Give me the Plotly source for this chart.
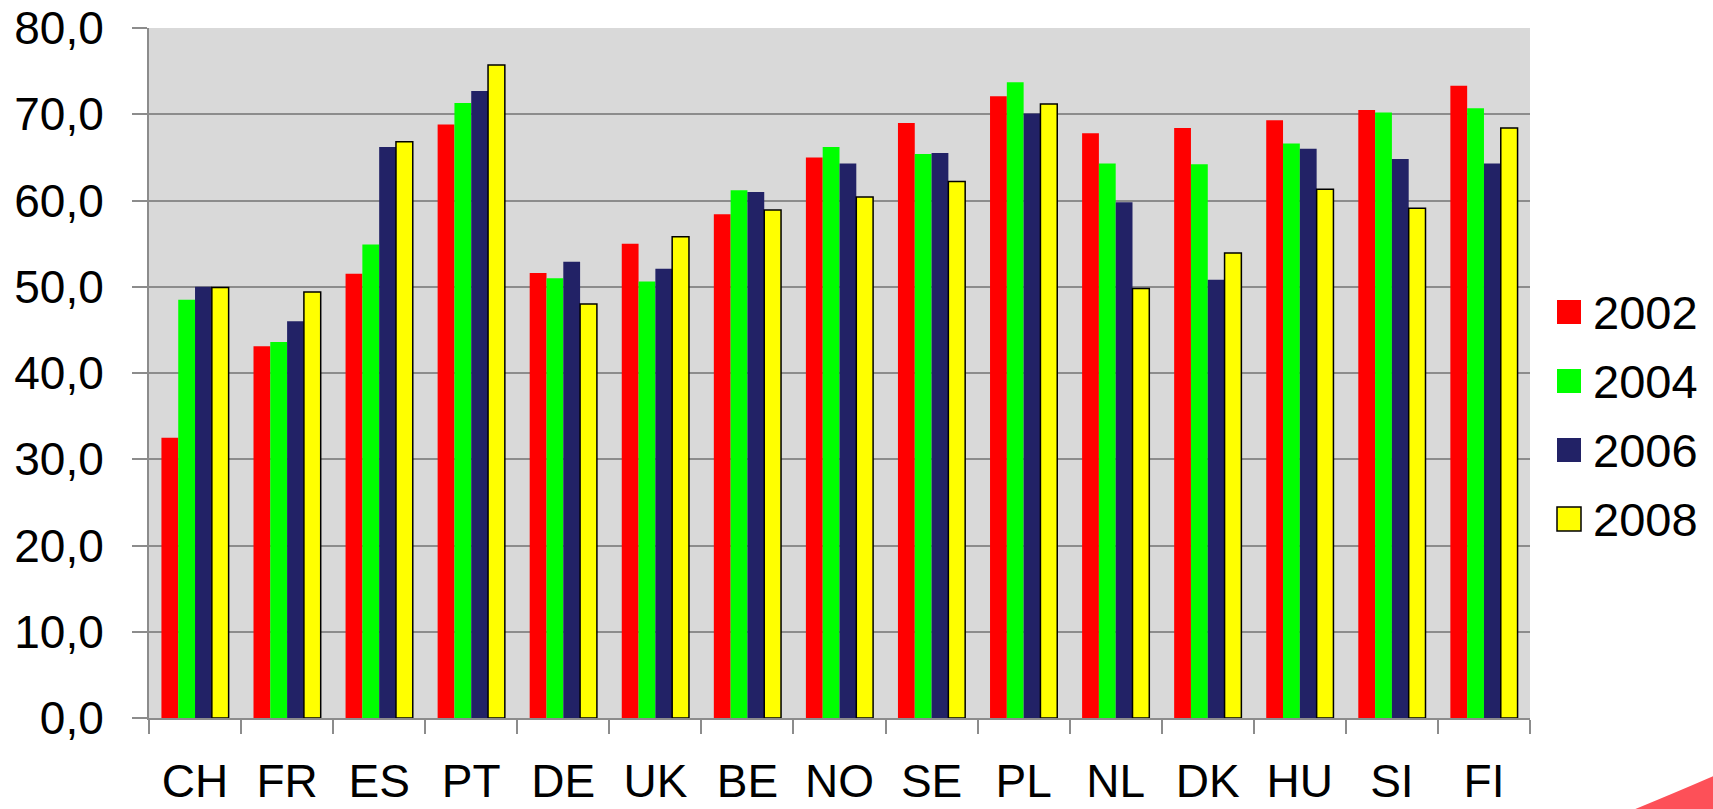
import plotly.graph_objects as go

countries = ["CH", "FR", "ES", "PT", "DE", "UK", "BE", "NO", "SE", "PL", "NL", "DK", "HU", "SI", "FI"]
years = ["2002", "2004", "2006", "2008"]
v2002 = [32.5, 43.1, 51.5, 68.8, 51.6, 55.0, 58.4, 65.0, 69.0, 72.1, 67.8, 68.4, 69.3, 70.5, 73.3]
v2004 = [48.5, 43.6, 54.9, 71.3, 51.0, 50.6, 61.2, 66.2, 65.4, 73.7, 64.3, 64.2, 66.6, 70.2, 70.7]
v2006 = [50.0, 46.0, 66.2, 72.7, 52.9, 52.1, 61.0, 64.3, 65.5, 70.1, 59.8, 50.8, 66.0, 64.8, 64.3]
v2008 = [49.9, 49.4, 66.8, 75.7, 48.0, 55.8, 58.9, 60.4, 62.2, 71.2, 49.8, 53.9, 61.3, 59.1, 68.4]
series = [v2002, v2004, v2006, v2008]

colors = ["#ff0000", "#00ff00", "#222266", "#ffff00"]
line_w = [0, 0, 0, 1.5]

W, H = 1713, 809
# plot area in page pixels: left 149, top 28, right 1530, bottom 718
L, T = 149, 28
R, B = W - 1530, H - 718
PW, PH = W - L - R, H - T - B

FONT = "Liberation Sans, Arial, sans-serif"

fig = go.Figure()
for name, vals, c, lw in zip(years, series, colors, line_w):
    fig.add_trace(go.Bar(
        x=countries, y=vals, name=name, legendgroup=name, showlegend=False,
        marker=dict(color=c, line=dict(color="#000000", width=lw)),
    ))

def px(x):
    """page x pixel -> paper coordinate"""
    return (x - L) / PW

def py(y):
    """page y pixel -> paper coordinate"""
    return (H - B - y) / PH

shapes = []
annotations = []

# legend (swatches + text so the 24px squares match the original)
leg_y0, leg_dy, sw = 312, 69, 24
for i, (name, c, lw) in enumerate(zip(years, colors, line_w)):
    cy = leg_y0 + i * leg_dy
    shapes.append(dict(
        type="rect", xref="paper", yref="paper",
        x0=px(1557), x1=px(1557 + sw), y0=py(cy + sw / 2), y1=py(cy - sw / 2),
        fillcolor=c, line=dict(color="#000000", width=lw if lw else 0),
    ))
    annotations.append(dict(
        xref="paper", yref="paper", x=px(1591), y=py(cy),
        xanchor="left", yanchor="middle", showarrow=False, text=name,
        font=dict(size=47, family=FONT, color="#000000"),
    ))

# decorative corner swoosh from the slide template
path = "M {:.4f},{:.4f} Q {:.4f},{:.4f} {:.4f},{:.4f} L {:.4f},{:.4f} Z".format(
    px(1628), py(812), px(1670), py(795), px(1716), py(775), px(1716), py(812))
shapes.append(dict(type="path", xref="paper", yref="paper", path=path,
                   fillcolor="#fd5058", line=dict(width=0), layer="above"))

fig.update_layout(
    width=W, height=H,
    margin=dict(l=L, r=R, t=T, b=B, pad=0),
    paper_bgcolor="#ffffff",
    plot_bgcolor="#d9d9d9",
    separators=",.",
    barmode="group",
    bargap=0.27,
    bargroupgap=0,
    font=dict(family=FONT, size=46, color="#000000"),
    showlegend=False,
    xaxis=dict(
        type="category", automargin=False,
        showline=True, linecolor="#8c8c8c", linewidth=2,
        ticks="outside", ticklen=14, tickcolor="#8c8c8c", tickwidth=2,
        tickson="boundaries",
        showgrid=False,
        tickfont=dict(size=46, family=FONT, color="#000000"),
        ticklabelstandoff=22,
        ticklabeloverflow="allow",
    ),
    yaxis=dict(
        range=[0, 80], dtick=10, tick0=0, automargin=False,
        tickformat=".1f",
        showline=True, linecolor="#8c8c8c", linewidth=2,
        ticks="outside", ticklen=15, tickcolor="#8c8c8c", tickwidth=2,
        showgrid=True, gridcolor="#8c8c8c", gridwidth=2,
        zeroline=False,
        tickfont=dict(size=46, family=FONT, color="#000000"),
        ticklabelstandoff=19,
        ticklabeloverflow="allow",
    ),
    shapes=shapes,
    annotations=annotations,
)

# the page's default 8px body margin would shift the 1713x809 figure; remove it
fig.write_html("out.html", config={"displayModeBar": False},
               post_script="document.body.style.margin='0px';")
